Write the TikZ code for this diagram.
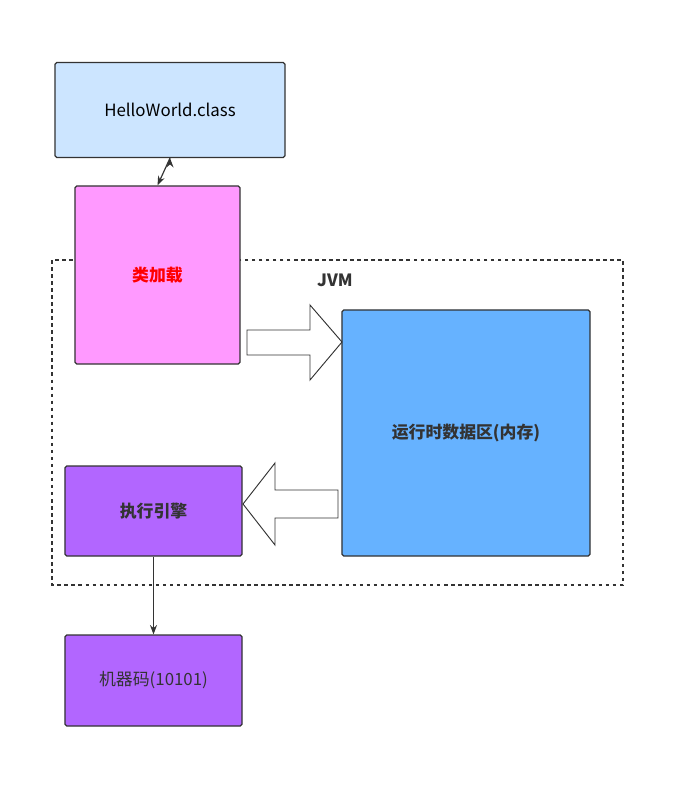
\documentclass[tikz,border=0pt]{standalone}
\usepackage{fontspec}
\setmainfont{Noto Sans CJK SC}
\usetikzlibrary{arrows.meta}
\definecolor{clsblue}{HTML}{CCE5FF}
\definecolor{ldpink}{HTML}{FF99FF}
\definecolor{rtblue}{HTML}{66B2FF}
\definecolor{expurple}{HTML}{B266FF}
\definecolor{edge}{HTML}{333333}
\tikzset{
  box/.style={draw=edge, line width=1pt, rounded corners=1.5pt, font=\Large},
  fat/.style={draw=edge, line width=0.8pt, fill=white},
  link/.style={draw=edge, line width=1pt, -{Stealth[length=8pt]}}
}
\begin{document}
\begin{tikzpicture}[x=0.03cm, y=-0.03cm]
    \useasboundingbox (0,0) rectangle (689,808);
    % JVM frame
    \draw[edge, dashed, line width=1.2pt] (52,260) rectangle (623,585);
    \node[font=\Large\bfseries, text=edge] (jvm) at (335,280) {JVM};
    \node[box, fill=clsblue, minimum width=6.9cm, minimum height=2.85cm] (cls) at (170,110) {HelloWorld.class};
    \node[box, fill=ldpink, minimum width=4.95cm, minimum height=5.34cm, text=red, font=\Large\bfseries] (load) at (157.5,275) {类加载};
    \node[box, fill=rtblue, minimum width=7.44cm, minimum height=7.38cm, font=\Large\bfseries, text=edge] (rt) at (466,433) {运行时数据区(内存)};
    \node[box, fill=expurple, minimum width=5.31cm, minimum height=2.7cm, font=\Large\bfseries, text=edge] (exe) at (153.5,511) {执行引擎};
    \node[box, fill=expurple, minimum width=5.31cm, minimum height=2.73cm, text=edge] (mc) at (153.5,680.5) {机器码(10101)};
    % block arrows
    \draw[fat] (247,330) -- (310,330) -- (310,305) -- (342,342) -- (310,380) -- (310,355) -- (247,355) -- cycle;
    \draw[fat] (338,490) -- (275,490) -- (275,463) -- (243,504) -- (275,545) -- (275,518) -- (338,518) -- cycle;
    \draw[link] (cls.south) ++(0,0) coordinate (c1);
    \draw[link] (c1) -- (load.north);
    \draw[link] (exe.south) -- (mc.north);
\end{tikzpicture}
\end{document}
